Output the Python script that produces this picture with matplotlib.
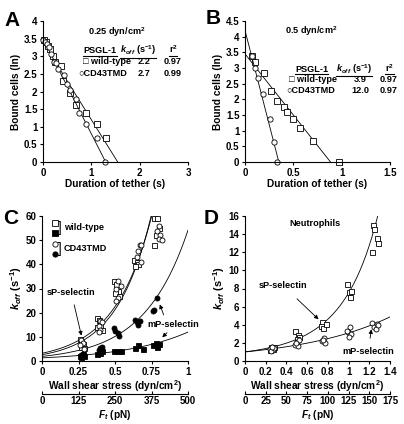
import numpy as np
import matplotlib
matplotlib.use('Agg')
import matplotlib.pyplot as plt
from matplotlib.lines import Line2D

plt.rcParams['font.family'] = ['Liberation Sans', 'DejaVu Sans']
plt.rcParams['font.weight'] = 'bold'
plt.rcParams['axes.labelweight'] = 'bold'
plt.rcParams['font.size'] = 7
plt.rcParams['mathtext.fontset'] = 'custom'
plt.rcParams['mathtext.rm'] = 'Liberation Sans:bold'
plt.rcParams['mathtext.it'] = 'Liberation Sans:italic:bold'
plt.rcParams['mathtext.bf'] = 'Liberation Sans:bold'
plt.rcParams['axes.linewidth'] = 0.8

# ---- panel A: 0.25 dyn/cm2 ----
a_wt_t = [0.02, 0.06, 0.10, 0.15, 0.20, 0.25, 0.37, 0.42, 0.56, 0.68, 0.89, 1.12, 1.30]
a_wt_y = [3.45, 3.40, 3.30, 3.20, 3.00, 2.85, 2.72, 2.30, 1.97, 1.61, 1.40, 1.08, 0.69]
a_cd_t = [0.01, 0.05, 0.09, 0.12, 0.17, 0.22, 0.26, 0.30, 0.43, 0.49, 0.56, 0.68, 0.74, 0.89, 1.12, 1.29]
a_cd_y = [3.45, 3.40, 3.35, 3.25, 3.05, 2.85, 2.80, 2.65, 2.48, 2.20, 2.05, 1.80, 1.39, 1.09, 0.69, 0.0]
a_koff = [2.2, 2.7]
a_r2 = [0.97, 0.99]
a_icpt = [3.4, 3.5]

# ---- panel B: 0.5 dyn/cm2 ----
b_wt_t = [0.07, 0.107, 0.20, 0.27, 0.33, 0.40, 0.43, 0.50, 0.565, 0.70, 0.97]
b_wt_y = [3.37, 3.19, 2.83, 2.28, 1.94, 1.76, 1.59, 1.37, 1.07, 0.66, 0.0]
b_cd_t = [0.069, 0.10, 0.13, 0.19, 0.26, 0.30, 0.335]
b_cd_y = [3.37, 3.01, 2.69, 2.17, 1.37, 0.64, 0.0]
b_koff = [3.9, 12.0]
b_r2 = [0.97, 0.97]
b_icpt = [3.45, 4.2]

# ---- panel C: koff vs wall shear stress ----
c_wt_sp_x = [0.26, 0.27, 0.28, 0.27, 0.29, 0.38, 0.39, 0.40, 0.38, 0.41, 0.49, 0.51, 0.52, 0.50, 0.53,
             0.63, 0.65, 0.66, 0.64, 0.77, 0.79, 0.80, 0.78, 0.77]
c_wt_sp_y = [9, 8, 7, 6, 5.5, 18, 17, 15, 14, 13, 33, 32, 29, 28, 27,
             42, 41, 40, 39.5, 59, 59, 55, 52, 48]
c_cd_sp_x = [0.27, 0.28, 0.26, 0.29, 0.40, 0.41, 0.39, 0.40, 0.39, 0.52, 0.54, 0.51, 0.52, 0.51,
             0.67, 0.68, 0.66, 0.65, 0.68, 0.80, 0.79, 0.81, 0.80, 0.82]
c_cd_sp_y = [8.5, 7.5, 6.5, 5, 16.5, 16, 14.5, 13, 12, 33, 31, 30, 26, 25,
             48, 48, 45.5, 43, 41, 56, 54, 52, 50.5, 50]
c_wt_mp_x = [0.26, 0.28, 0.27, 0.29, 0.28, 0.38, 0.40, 0.41, 0.49, 0.52, 0.54,
             0.64, 0.66, 0.69, 0.76, 0.78, 0.80, 0.79]
c_wt_mp_y = [2.0, 2.5, 1.8, 2.2, 3.0, 3.0, 3.5, 4.0, 4.0, 4.2, 4.0,
             5.5, 6.5, 5.0, 6.5, 7.5, 7.0, 6.0]
c_cd_mp_x = [0.27, 0.28, 0.39, 0.40, 0.41, 0.49, 0.50, 0.52, 0.53, 0.64, 0.65, 0.66, 0.67, 0.76, 0.77, 0.79]
c_cd_mp_y = [2.5, 3.0, 4.5, 5.5, 6.0, 13.5, 12.5, 11.5, 10.5, 17, 16, 15, 16.5, 20.5, 21, 26]
# exponential fits k = a*exp(b*stress): wt sP, CD43 sP, CD43 mP, wt mP
c_fit_a = [2.6, 3.2, 1.9, 1.3]
c_fit_b = [4.2, 3.9, 3.35, 2.22]

# ---- panel D: neutrophils ----
d_sp_x = [0.25, 0.26, 0.27, 0.24, 0.28, 0.48, 0.51, 0.52, 0.50, 0.74, 0.73, 0.75, 0.78,
          0.98, 1.00, 1.02, 1.01, 1.24, 1.25, 1.27, 1.28, 1.23]
d_sp_y = [1.6, 1.4, 1.3, 1.2, 1.5, 3.3, 2.9, 2.6, 2.4, 4.3, 3.9, 3.6, 4.1,
          8.5, 7.6, 7.7, 7.1, 15.0, 14.6, 13.6, 13.0, 12.0]
d_mp_x = [0.24, 0.26, 0.27, 0.25, 0.28, 0.26, 0.48, 0.50, 0.52, 0.51, 0.49, 0.74, 0.76, 0.77, 0.75,
          0.99, 1.01, 1.02, 1.00, 0.98, 1.23, 1.25, 1.27, 1.26, 1.28]
d_mp_y = [1.3, 1.5, 1.2, 1.1, 1.4, 1.6, 1.8, 2.1, 2.3, 1.7, 2.0, 2.2, 2.5, 2.0, 2.3,
          3.2, 3.7, 3.0, 2.6, 3.3, 4.2, 3.8, 4.1, 3.5, 4.0]
# k = a*exp(b*s + c*s^2): sP, mP
d_fit = [(1.0, 1.485, 0.53), (1.0, 1.13, 0.0)]

W, H = 404, 424
fig = plt.figure(figsize=(W / 100, H / 100), dpi=100)


def add_ax(l, t, r, b):
    return fig.add_axes([l / W, 1 - b / H, (r - l) / W, (b - t) / H])


def style(ax):
    ax.spines['top'].set_visible(False)
    ax.spines['right'].set_visible(False)
    ax.tick_params(direction='out', length=2.5, width=0.8, pad=1.5, labelsize=7)
    for lab in ax.get_xticklabels() + ax.get_yticklabels():
        lab.set_fontweight('bold')


axA = add_ax(43, 21, 188, 162)
axB = add_ax(245, 21, 390, 162)
axC = add_ax(42, 216, 188, 361)
axD = add_ax(245, 216, 390, 361)

def mk(marker, fill, ms):
    return dict(marker=marker, mfc=fill, mec='k', mew=0.6, ms=ms, ls='none')

FS = 6.6  # table / annotation text size
underlined = []

# panels A and B
for ax, wt_t, wt_y, cd_t, cd_y, koff, r2, icpt, xmax, ymax, title, tpos, cols in [
        (axA, a_wt_t, a_wt_y, a_cd_t, a_cd_y, a_koff, a_r2, a_icpt, 3, 4,
         '0.25 dyn/cm$^2$', (1.53, 3.69), (1.18, 1.97, 2.69, 0.83, 0.72, 3.09, 2.79, 2.45)),
        (axB, b_wt_t, b_wt_y, b_cd_t, b_cd_y, b_koff, b_r2, b_icpt, 1.5, 4.5,
         '0.5 dyn/cm$^2$', (0.69, 4.17), (0.69, 1.13, 1.49, 0.455, 0.43, 2.88, 2.56, 2.21))]:
    for i, (t, y, st) in enumerate([(wt_t, wt_y, mk('s', 'white', 4.0)),
                                    (cd_t, cd_y, mk('o', 'white', 3.8))]):
        ax.plot([0, icpt[i] / koff[i]], [icpt[i], 0], color='k', lw=0.6)
        ax.plot(t, y, clip_on=False, **st)
    ax.set_xlim(0, xmax)
    ax.set_ylim(0, ymax)
    ax.set_yticks(np.arange(0, ymax + 0.01, 0.5))
    ax.set_yticklabels(['%g' % v for v in np.arange(0, ymax + 0.01, 0.5)])
    ax.set_xlabel('Duration of tether (s)', fontsize=7.3, labelpad=1)
    ax.set_ylabel('Bound cells (ln)', fontsize=7.3, labelpad=2)
    ax.text(tpos[0], tpos[1], title, ha='center', va='center', fontsize=FS)
    c1, c2, c3, n1, n2, yh, y1, y2 = cols
    underlined.append(ax.text(c1, yh, 'PSGL-1', ha='center', va='baseline', fontsize=FS))
    underlined.append(ax.text(c2, yh, r'$k_{off}$ (s$^{-1}$)', ha='center', va='baseline', fontsize=FS))
    underlined.append(ax.text(c3, yh, 'r$^2$', ha='center', va='baseline', fontsize=FS))
    for yy, nx, name, k, r in [(y1, n1, '\u25a1 wild-type', koff[0], r2[0]),
                               (y2, n2, '\u25cbCD43TMD', koff[1], r2[1])]:
        ax.text(nx, yy, name, ha='left', va='baseline', fontsize=FS)
        ax.text(c2 + 0.04 * xmax, yy, '%.1f' % k, ha='center', va='baseline', fontsize=FS)
        ax.text(c3, yy, '%.2f' % r, ha='center', va='baseline', fontsize=FS)

axA.set_xticks([0, 1, 2, 3])
axB.set_xticks([0, 0.5, 1, 1.5])
axB.set_xticklabels(['0', '0.5', '1', '1.5'])
style(axA)
style(axB)

# panel C
s = np.linspace(0, 1, 200)
for a, b in zip(c_fit_a, c_fit_b):
    axC.plot(s, a * np.exp(b * s), color='k', lw=0.6)
axC.plot(c_wt_sp_x, c_wt_sp_y, **mk('s', 'white', 3.6))
axC.plot(c_cd_sp_x, c_cd_sp_y, **mk('o', 'white', 3.6))
axC.plot(c_wt_mp_x, c_wt_mp_y, **mk('s', 'k', 3.6))
axC.plot(c_cd_mp_x, c_cd_mp_y, **mk('o', 'k', 3.6))
axC.set_xlim(0, 1)
axC.set_ylim(0, 60)
axC.set_xticks([0, 0.25, 0.5, 0.75, 1])
axC.set_xticklabels(['0', '0.25', '0.5', '0.75', '1'])
axC.set_yticks(range(0, 61, 10))
style(axC)
axC.set_xlabel('Wall shear stress (dyn/cm$^2$)', fontsize=7.3, labelpad=1)
axC.set_ylabel(r'$k_{off}$ (s$^{-1}$)', fontsize=8, labelpad=1)
axC.plot([0.09], [57.2], **mk('s', 'white', 3.8))
axC.plot([0.09], [53.0], **mk('s', 'k', 3.8))
axC.plot([0.09], [48.6], **mk('o', 'white', 3.8))
axC.plot([0.09], [44.4], **mk('o', 'k', 3.8))
for yy, name in [(55.1, 'wild-type'), (46.5, 'CD43TMD')]:
    axC.text(0.112, yy, ']', ha='left', va='center', fontsize=10, fontweight='normal')
    axC.text(0.148, yy, name, ha='left', va='center', fontsize=FS)
arw = dict(arrowstyle='-|>', color='k', lw=0.6, mutation_scale=6)
axC.annotate('sP-selectin', xy=(0.27, 10.5), xytext=(0.2, 28.5), ha='center', va='center',
             fontsize=FS, arrowprops=dict(arw, shrinkA=4, shrinkB=0), annotation_clip=False)
axC.text(0.9, 15.0, 'mP-selectin', ha='center', va='center', fontsize=FS, clip_on=False)
axC.annotate('', xy=(0.80, 24.5), xytext=(0.84, 18.0), arrowprops=arw)
axC.annotate('', xy=(0.81, 9.0), xytext=(0.87, 12.5), arrowprops=arw)
secC = axC.secondary_xaxis(-0.228, functions=(lambda x: x * 500, lambda f: f / 500))
secC.set_xticks([0, 125, 250, 375, 500])
secC.tick_params(direction='in', length=2, width=0.8, pad=1.5, labelsize=7)
for lab in secC.get_xticklabels():
    lab.set_fontweight('bold')
secC.set_xlabel(r'$F_t$ (pN)', fontsize=7.3, labelpad=1)

# panel D
s = np.linspace(0, 1.4, 200)
for a, b, c in d_fit:
    axD.plot(s, a * np.exp(b * s + c * s ** 2), color='k', lw=0.6)
axD.plot(d_sp_x, d_sp_y, **mk('s', 'white', 3.6))
axD.plot(d_mp_x, d_mp_y, **mk('o', 'white', 3.6))
axD.set_xlim(0, 1.4)
axD.set_ylim(0, 16)
axD.set_xticks(np.arange(0, 1.41, 0.2))
axD.set_xticklabels(['0', '0.2', '0.4', '0.6', '0.8', '1', '1.2', '1.4'])
axD.set_yticks(range(0, 17, 2))
style(axD)
axD.set_xlabel('Wall shear stress (dyn/cm$^2$)', fontsize=7.3, labelpad=1)
axD.set_ylabel(r'$k_{off}$ (s$^{-1}$)', fontsize=8, labelpad=1)
axD.text(0.68, 15.15, 'Neutrophils', ha='center', va='center', fontsize=FS)
axD.annotate('sP-selectin', xy=(0.71, 4.6), xytext=(0.37, 8.3), ha='center', va='center',
             fontsize=FS, arrowprops=dict(arw, shrinkA=6, shrinkB=0))
axD.annotate('mP-selectin', xy=(1.22, 3.5), xytext=(1.19, 1.1), ha='center', va='center',
             fontsize=FS, arrowprops=dict(arw, shrinkA=4, shrinkB=0), annotation_clip=False)
secD = axD.secondary_xaxis(-0.228, functions=(lambda x: x * 125, lambda f: f / 125))
secD.set_xticks(range(0, 176, 25))
secD.tick_params(direction='in', length=2, width=0.8, pad=1.5, labelsize=7)
for lab in secD.get_xticklabels():
    lab.set_fontweight('bold')
secD.set_xlabel(r'$F_t$ (pN)', fontsize=7.3, labelpad=1)

for letter, x, y in [('A', 12, 20), ('B', 213, 19), ('C', 11, 218), ('D', 211, 218)]:
    fig.text(x / W, 1 - y / H, letter, ha='center', va='center', fontsize=15, fontweight='bold')

# underline table headers
fig.canvas.draw()
rend = fig.canvas.get_renderer()
inv = fig.transFigure.inverted()
for t in underlined:
    bb = t.get_window_extent(rend)
    (x0, y0), (x1, _) = inv.transform([(bb.x0, bb.y0 - 0.5), (bb.x1, bb.y0)])
    fig.add_artist(Line2D([x0, x1], [y0, y0], color='k', lw=0.8))

fig.savefig('out.png', dpi=100)
